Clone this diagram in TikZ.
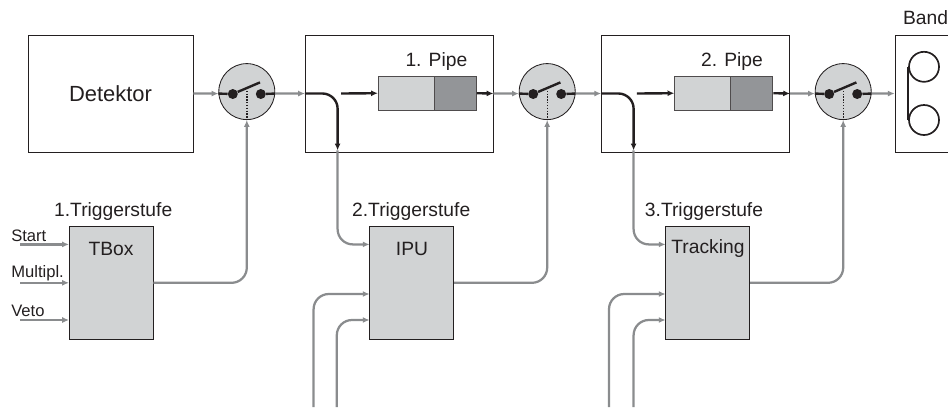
\documentclass[tikz,border=0pt]{standalone}
\usepackage{fontspec}
\setmainfont{Liberation Sans}
\usetikzlibrary{arrows.meta}
\definecolor{linegray}{HTML}{8A8C8E}
\definecolor{lightfill}{HTML}{D1D3D4}
\definecolor{darkfill}{HTML}{939598}
\definecolor{inkdark}{HTML}{231F20}
\tikzset{
  box/.style={draw=inkdark, line width=0.6pt, inner sep=0pt, minimum height=2.925cm},
  trigbox/.style={draw=inkdark, line width=0.6pt, fill=lightfill, inner sep=0pt, minimum width=2.1cm, minimum height=2.81cm},
  switch/.style={draw=inkdark, line width=0.6pt, fill=lightfill, circle, inner sep=0pt, minimum size=1.4cm},
  contact/.style={fill=inkdark, circle, inner sep=0pt, minimum size=0.25cm},
  pipeA/.style={draw=inkdark!80, line width=0.7pt, fill=lightfill, inner sep=0pt, minimum width=1.4cm, minimum height=0.84cm},
  pipeB/.style={draw=inkdark!80, line width=0.7pt, fill=darkfill, inner sep=0pt, minimum width=1.05cm, minimum height=0.84cm},
  reel/.style={draw=inkdark, line width=1.2pt, circle, inner sep=0pt, minimum size=0.75cm},
  graysig/.style={draw=linegray, line width=1.6pt, rounded corners=0.38cm, -{Latex[length=1.7mm,width=1.5mm]}},
  blacksig/.style={draw=inkdark, line width=1.7pt, rounded corners=0.38cm, -{Latex[length=1.7mm,width=1.5mm]}},
  stub/.style={draw=inkdark, line width=1.7pt},
  big/.style={text=inkdark, font=\fontsize{15.6}{18}\selectfont},
  mid/.style={text=inkdark, font=\fontsize{13.7}{16}\selectfont},
  small/.style={text=inkdark, anchor=west, inner sep=0pt, font=\fontsize{11.8}{14}\selectfont},
}
\begin{document}
\begin{tikzpicture}
\useasboundingbox (0, 0) rectangle (23.7, -10.175);

\node[box, minimum width=4.125cm, big] (det) at (2.7625, -2.3375) {Detektor};
\node[box, minimum width=4.69cm] (box1) at (9.98, -2.3375) {};
\node[box, minimum width=4.7cm] (box2) at (17.39, -2.3375) {};
\node[box, minimum width=2.625cm] (bandbox) at (23.69, -2.3375) {};

\node[mid, anchor=west, inner sep=0pt] (band) at (22.57, -0.43) {Band};
\node[reel] (reelA) at (23.1, -1.67) {};
\node[reel] (reelB) at (23.1, -3.0) {};
\draw[stub, line width=1.2pt] (reelA.west) -- (reelB.west);

\node[switch] (sw1) at (6.17, -2.29) {};
\node[switch] (sw2) at (13.68, -2.29) {};
\node[switch] (sw3) at (21.08, -2.29) {};

\node[pipeA] (pipe1a) at (10.16, -2.33) {};
\node[pipeB] (pipe1b) at (11.385, -2.33) {};
\node[pipeA] (pipe2a) at (17.57, -2.33) {};
\node[pipeB] (pipe2b) at (18.795, -2.33) {};
\node[mid] (pipe1text) at (10.91, -1.54) {1. Pipe};
\node[mid] (pipe2text) at (18.3, -1.54) {2. Pipe};

\node[trigbox] (tbox) at (2.775, -7.07) {};
\node[trigbox] (ipu) at (10.29, -7.07) {};
\node[trigbox] (track) at (17.69, -7.07) {};
\node[mid] (tboxtext) at (2.775, -6.22) {TBox};
\node[mid] (iputext) at (10.3, -6.22) {IPU};
\node[mid] (tracktext) at (17.7, -6.22) {Tracking};
\node[mid] (trig1) at (2.83, -5.28) {1.Triggerstufe};
\node[mid] (trig2) at (10.28, -5.28) {2.Triggerstufe};
\node[mid] (trig3) at (17.6, -5.28) {3.Triggerstufe};

\node[small] (start) at (0.275, -5.9) {Start};
\node[small] (multi) at (0.275, -6.83) {Multipl.};
\node[small] (veto) at (0.275, -7.78) {Veto};

\node[contact] (c1a) at (5.82, -2.35) {};
\node[contact] (c1b) at (6.52, -2.35) {};
\node[contact] (c2a) at (13.33, -2.35) {};
\node[contact] (c2b) at (14.03, -2.35) {};
\node[contact] (c3a) at (20.73, -2.35) {};
\node[contact] (c3b) at (21.43, -2.35) {};

\coordinate (lever1) at (6.5, -2.06);
\coordinate (lever2) at (14.01, -2.06);
\coordinate (lever3) at (21.41, -2.06);
\coordinate (hinge1) at (6.17, -2.2);
\coordinate (hinge2) at (13.68, -2.2);
\coordinate (hinge3) at (21.08, -2.2);

\draw[stub] (sw1.184) -- (c1a) -- (lever1);
\draw[stub] (c1b) -- (sw1.356);
\draw[stub] (sw2.184) -- (c2a) -- (lever2);
\draw[stub] (c2b) -- (sw2.356);
\draw[stub] (sw3.184) -- (c3a) -- (lever3);
\draw[stub] (c3b) -- (sw3.356);
\draw[inkdark, line width=1pt, densely dotted] (hinge1) -- (sw1.south);
\draw[inkdark, line width=1pt, densely dotted] (hinge2) -- (sw2.south);
\draw[inkdark, line width=1pt, densely dotted] (hinge3) -- (sw3.south);

\draw[graysig] (det.east) -- (sw1.184);
\draw[graysig] (sw1.356) -- (box1.west);
\draw[graysig] (box1.east) -- (sw2.184);
\draw[graysig] (sw2.356) -- (box2.west);
\draw[graysig] (box2.east) -- (sw3.184);
\draw[graysig] (sw3.356) -- (bandbox.west);

\coordinate (split1) at (8.44, -3.76);
\coordinate (split2) at (15.84, -3.76);
\coordinate (feed1) at (8.53, -2.3375);
\coordinate (feed2) at (15.92, -2.3375);
\coordinate (ipuA) at (9.24, -6.11);
\coordinate (ipuB) at (9.24, -7.35);
\coordinate (ipuC) at (9.24, -8.0);
\coordinate (trackA) at (16.64, -6.11);
\coordinate (trackB) at (16.64, -7.35);
\coordinate (trackC) at (16.64, -8.0);
\coordinate (tboxA) at (1.725, -6.11);
\coordinate (tboxB) at (1.725, -7.07);
\coordinate (tboxC) at (1.725, -8.0);
\coordinate (startend) at (0.5, -6.11);
\coordinate (multiend) at (0.5, -7.07);
\coordinate (vetoend) at (0.5, -8.0);
\coordinate (ipuin1) at (7.84, -10.175);
\coordinate (ipuin2) at (8.42, -10.175);
\coordinate (trackin1) at (15.225, -10.175);
\coordinate (trackin2) at (15.84, -10.175);

\draw[graysig] (split1) |- (ipuA);
\draw[graysig] (split2) |- (trackA);
\draw[blacksig] (box1.west) -| (split1);
\draw[blacksig] (box2.west) -| (split2);
\draw[blacksig] (feed1) -- (pipe1a.west);
\draw[blacksig] (feed2) -- (pipe2a.west);
\draw[blacksig] (pipe1b.east) -- (box1.east);
\draw[blacksig] (pipe2b.east) -- (box2.east);

\draw[graysig] (ipuin1) |- (ipuB);
\draw[graysig] (ipuin2) |- (ipuC);
\draw[graysig] (trackin1) |- (trackB);
\draw[graysig] (trackin2) |- (trackC);
\draw[graysig] (startend) -- (tboxA);
\draw[graysig] (multiend) -- (tboxB);
\draw[graysig] (vetoend) -- (tboxC);
\draw[graysig] (tbox.east) -| (sw1.south);
\draw[graysig] (ipu.east) -| (sw2.south);
\draw[graysig] (track.east) -| (sw3.south);

\end{tikzpicture}
\end{document}
